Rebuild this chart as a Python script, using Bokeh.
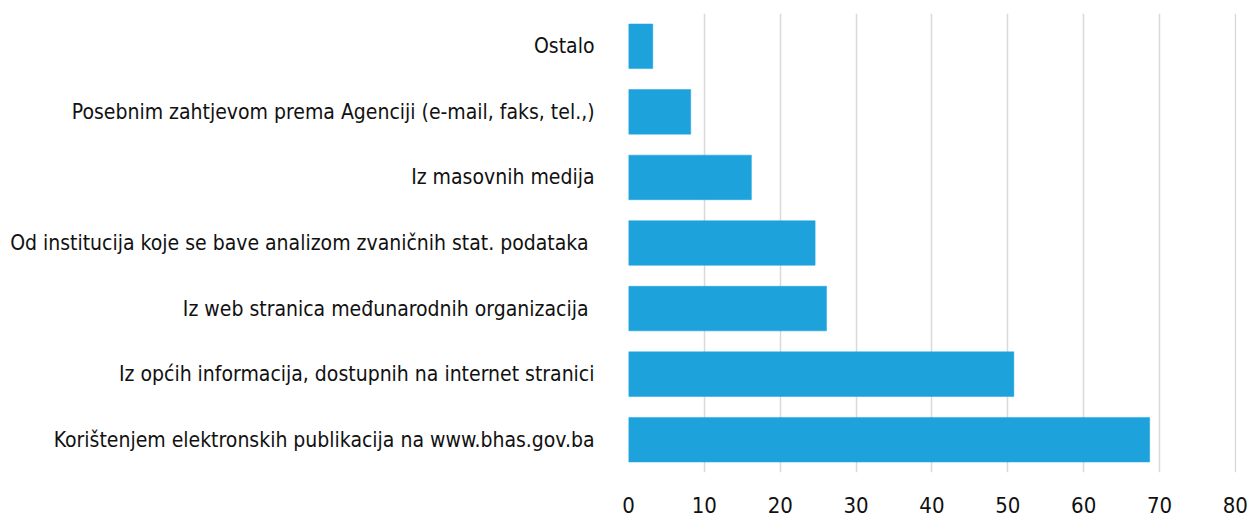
from bokeh.plotting import figure
from bokeh.models import FactorRange, Range1d, FixedTicker
from bokeh.embed import file_html
from bokeh.resources import INLINE

categories = [
    "Korištenjem elektronskih publikacija na www.bhas.gov.ba",
    "Iz općih informacija, dostupnih na internet stranici",
    "Iz web stranica međunarodnih organizacija ",
    "Od institucija koje se bave analizom zvaničnih stat. podataka ",
    "Iz masovnih medija",
    "Posebnim zahtjevom prema Agenciji (e-mail, faks, tel.,)",
    "Ostalo",
]
values = [68.7, 50.8, 26.1, 24.6, 16.2, 8.2, 3.2]
x_ticks = [0, 10, 20, 30, 40, 50, 60, 70, 80]

FONT = "'DejaVu Sans Condensed', 'Roboto Condensed', 'Noto Sans Display', 'Inter', sans-serif"

p = figure(
    frame_width=608, frame_height=459,
    y_range=FactorRange(*categories, range_padding=0),
    x_range=Range1d(0, 80.15),
    output_backend="svg", toolbar_location=None,
    min_border_left=628, min_border_right=14, min_border_top=13, min_border_bottom=0,
)
p.hbar(y=categories, right=values, height=0.68, left=0,
       fill_color="#1da2dc", line_color="#1da2dc", line_width=0.5)

p.outline_line_color = None
p.ygrid.grid_line_color = None
p.xgrid.grid_line_color = "#d9d9d9"
p.xgrid.grid_line_width = 1.5
p.xaxis.ticker = FixedTicker(ticks=x_ticks)

for ax in (p.xaxis, p.yaxis):
    ax.axis_line_color = None
    ax.major_tick_line_color = None
    ax.minor_tick_line_color = None
    ax.major_label_text_font = FONT
    ax.major_label_text_color = "#111111"

p.yaxis.major_label_text_font_size = "21px"
p.yaxis.major_label_standoff = 28
p.xaxis.major_label_text_font_size = "22px"
p.xaxis.major_label_standoff = 18

open("out.html", "w").write(file_html(p, INLINE))
